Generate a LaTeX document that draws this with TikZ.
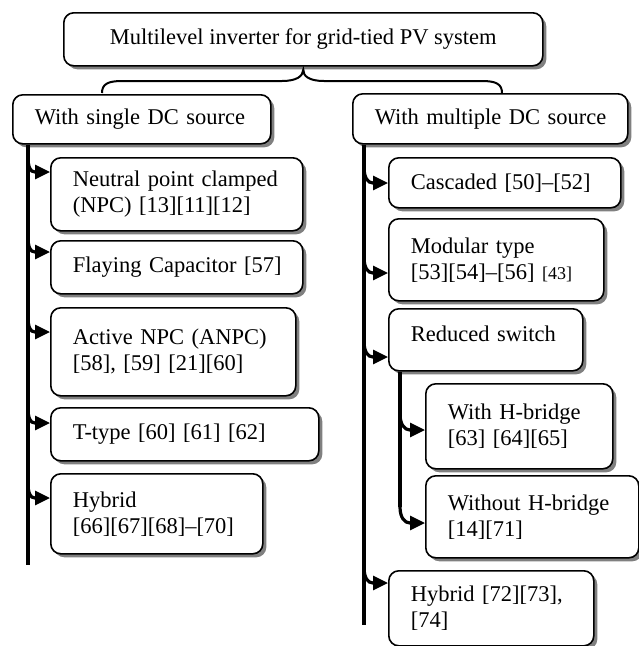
\documentclass[tikz,border=0pt]{standalone}
\usepackage{fontspec}
\setmainfont{Liberation Serif}
\usetikzlibrary{arrows.meta,shadows,calc}
\newcommand\oneline[1]{\mbox{#1}}
\begin{document}
\begin{tikzpicture}[x=1pt,y=-1pt,
  base/.style={draw=black, line width=1.6pt, rounded corners=10pt, fill=white,
    drop shadow={shadow xshift=3.5pt, shadow yshift=-3.5pt, fill=black!50, opacity=1},
    font=\fontsize{22.5}{26}\selectfont, inner ysep=0pt},
  lbox/.style={base, anchor=north west, align=left, inner xsep=22pt},
  cbox/.style={base, anchor=north west, align=center},
  trunk/.style={line width=3.2pt},
  arr/.style={line width=3.2pt, -{Triangle[length=15pt,width=14pt]}},
  bracestyle/.style={line width=2pt}]
\useasboundingbox (0,0) rectangle (639,646);

% root and level 1
\node[cbox, minimum width=479pt, minimum height=53pt] (top) at (63,12) {Multilevel inverter for grid-tied PV system};
\node[lbox, minimum width=258pt, minimum height=49pt, text width=214pt] (sd) at (12,94) {\oneline{With single DC source}};
\node[lbox, minimum width=275pt, minimum height=50pt, text width=231pt] (md) at (352,93) {\oneline{With multiple DC source}};

% left children
\node[lbox, minimum width=252pt, minimum height=73pt, text width=208pt] (npc) at (50,157) {\oneline{Neutral point clamped}\\\oneline{(NPC) [13][11][12]}};
\node[lbox, minimum width=252pt, minimum height=53pt, text width=208pt] (fc) at (50,240) {\oneline{Flaying Capacitor [57]}};
\node[lbox, minimum width=245pt, minimum height=88pt, text width=201pt] (anpc) at (50,307) {\oneline{Active NPC (ANPC)}\\\oneline{[58], [59] [21][60]}};
\node[lbox, minimum width=268pt, minimum height=53pt, text width=224pt] (tt) at (50,407) {\oneline{T-type [60] [61] [62]}};
\node[lbox, minimum width=212pt, minimum height=80pt, text width=168pt] (hyl) at (50,473) {\oneline{Hybrid}\\\oneline{[66][67][68]--[70]}};

% right children
\node[lbox, minimum width=232pt, minimum height=50pt, text width=188pt] (cas) at (388,157) {\oneline{Cascaded [50]--[52]}};
\node[lbox, minimum width=215pt, minimum height=82pt, text width=171pt] (mod) at (388,218) {\oneline{Modular type}\\\oneline{[53][54]--[56] {\fontsize{18}{26}\selectfont[43]}}};
\node[lbox, minimum width=194pt, minimum height=62pt, text width=150pt, text depth=13pt] (red) at (388,308) {\oneline{Reduced switch}};
\node[lbox, minimum width=187pt, minimum height=85pt, text width=143pt] (whb) at (425,383) {\oneline{With H-bridge}\\\oneline{[63] [64][65]}};
\node[lbox, minimum width=213pt, minimum height=82pt, text width=169pt] (wohb) at (425,475) {\oneline{Without H-bridge}\\\oneline{[14][71]}};
\node[lbox, minimum width=205pt, minimum height=75pt, text width=161pt] (hyr) at (388,570) {\oneline{Hybrid [72][73],}\\\oneline{[74]}};

% brace
\coordinate (bl) at (102,93);
\coordinate (br) at (502,93);
\coordinate (bt) at ($(top.south)+(0,3)$);
\draw[bracestyle] (bl) .. controls (102,84) and (108,81) .. (122,81) -- (282,81)
  .. controls (297,81) and (303,76) .. (bt)
  .. controls (303,76) and (309,81) .. (324,81) -- (482,81)
  .. controls (496,81) and (502,84) .. (br);

% trunks
\coordinate (lend) at (28,565);
\coordinate (rend) at (364,625);
\draw[trunk] ($(sd.south west)+(16,0)$) -- (lend);
\draw[trunk] ($(md.south west)+(12,0)$) -- (rend);

% left arrows
\coordinate (a1) at (28,156);
\coordinate (a2) at (28,236);
\coordinate (a3) at (28,316);
\coordinate (a4) at (28,407);
\coordinate (a5) at (28,482);
\draw[arr] (a1) .. controls +(0,11) and +(-5,0) .. ($(npc.north west)+(-15,15)$) -- ($(npc.north west)+(0,15)$);
\draw[arr] (a2) .. controls +(0,11) and +(-5,0) .. ($(fc.north west)+(-15,12)$) -- ($(fc.north west)+(0,12)$);
\draw[arr] (a3) .. controls +(0,11) and +(-5,0) .. ($(anpc.north west)+(-15,25)$) -- ($(anpc.north west)+(0,25)$);
\draw[arr] (a4) .. controls +(0,11) and +(-5,0) .. ($(tt.north west)+(-15,16)$) -- ($(tt.north west)+(0,16)$);
\draw[arr] (a5) .. controls +(0,11) and +(-5,0) .. ($(hyl.north west)+(-15,25)$) -- ($(hyl.north west)+(0,25)$);

% right arrows
\coordinate (b1) at (364,167);
\coordinate (b2) at (364,257);
\coordinate (b3) at (364,341);
\coordinate (b4) at (364,567);
\draw[arr] (b1) .. controls +(0,11) and +(-5,0) .. ($(cas.north west)+(-15,26)$) -- ($(cas.north west)+(0,26)$);
\draw[arr] (b2) .. controls +(0,11) and +(-5,0) .. ($(mod.north west)+(-15,55)$) -- ($(mod.north west)+(0,55)$);
\draw[arr] (b3) .. controls +(0,11) and +(-5,0) .. ($(red.north west)+(-15,49)$) -- ($(red.north west)+(0,49)$);
\draw[arr] (b4) .. controls +(0,11) and +(-5,0) .. ($(hyr.north west)+(-15,13)$) -- ($(hyr.north west)+(0,13)$);

% inner trunk and arrows
\coordinate (c1) at (400,414);
\coordinate (c2) at (400,507);
\draw[trunk] ($(red.south west)+(12,0)$) -- (c2);
\draw[arr] (c1) .. controls +(0,11) and +(-5,0) .. ($(whb.north west)+(-15,47)$) -- ($(whb.north west)+(0,47)$);
\draw[arr] (c2) .. controls +(0,11) and +(-5,0) .. ($(wohb.north west)+(-15,48)$) -- ($(wohb.north west)+(0,48)$);
\end{tikzpicture}
\end{document}
